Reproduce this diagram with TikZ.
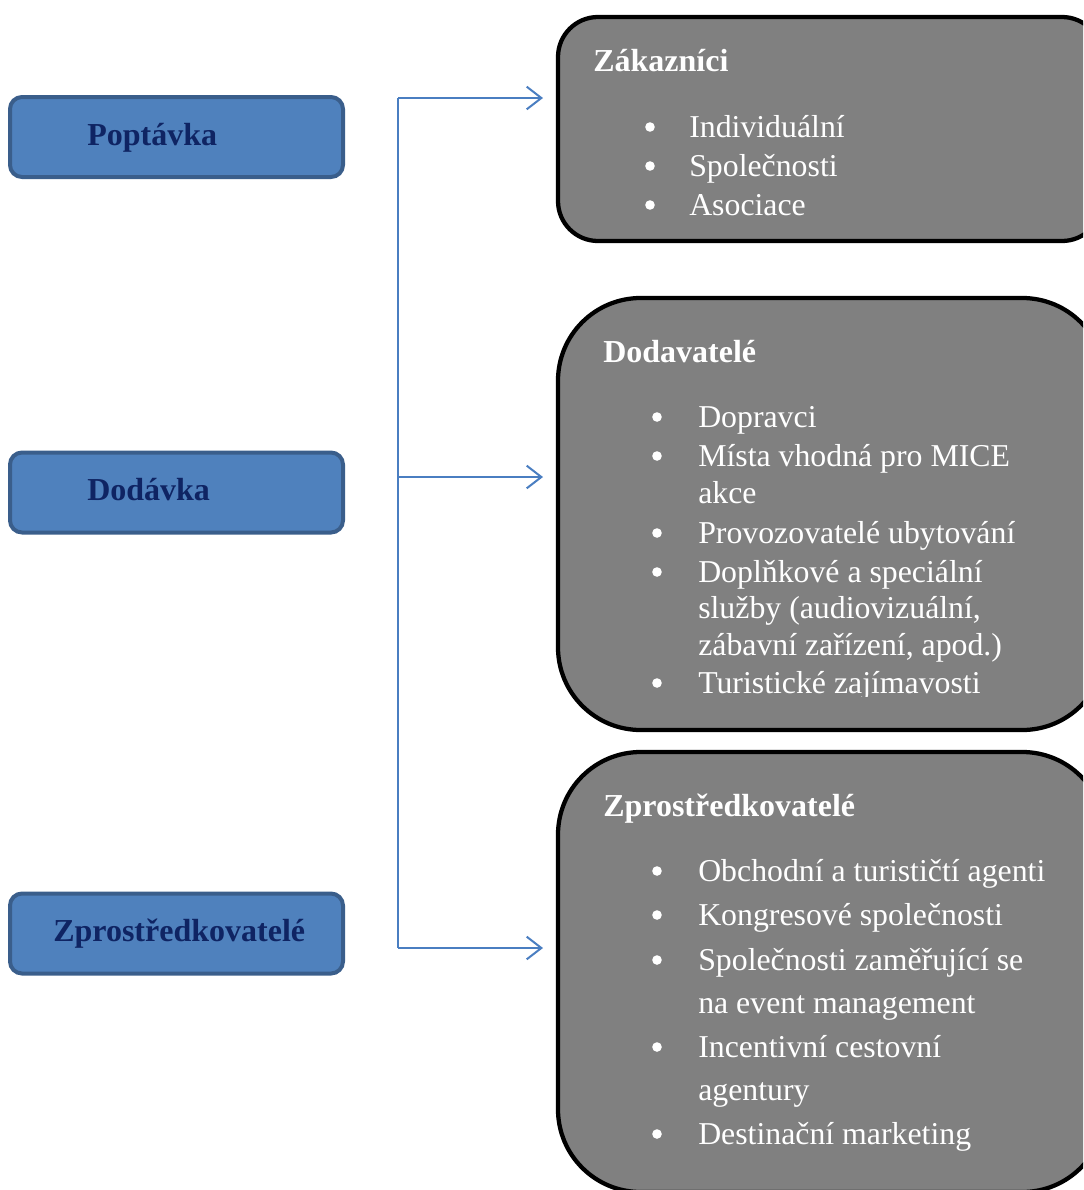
\documentclass[tikz,border=0pt]{standalone}
\usepackage{fontspec}
\setmainfont{Liberation Serif}
\usetikzlibrary{arrows.meta}
\definecolor{leftfill}{RGB}{79,129,189}
\definecolor{leftdraw}{RGB}{58,94,139}
\definecolor{navytext}{RGB}{15,36,99}
\definecolor{boxgray}{RGB}{128,128,128}
\definecolor{connblue}{RGB}{74,126,193}
\begin{document}
\begin{tikzpicture}[x=0.75pt,y=-0.75pt,
  leftbox/.style={draw=leftdraw, fill=leftfill, line width=3pt, rounded corners=9pt,
    minimum width=249.75pt, minimum height=60pt, inner sep=0pt},
  lefttext/.style={anchor=base west, inner sep=0pt, text=navytext,
    font=\fontsize{24}{28}\selectfont\bfseries},
  rightbox/.style={draw=black, fill=boxgray, line width=3.2pt, inner sep=0pt},
  titletext/.style={anchor=base west, inner sep=0pt, text=white,
    font=\fontsize{24}{28}\selectfont\bfseries},
  itemtext/.style={anchor=base west, inner sep=0pt, text=white,
    font=\fontsize{23.85}{28}\selectfont},
  bulletdot/.style={circle, fill=white, inner sep=0pt, minimum size=7.2pt, yshift=7.5pt},
  conn/.style={draw=connblue, line width=1.5pt},
  arr/.style={conn, -{Straight Barb[length=11pt,width=17pt,line width=1.5pt]}}
]
\useasboundingbox (0,0) rectangle (1083,1190);
\clip (0,0) rectangle (1083,1190);

% left boxes
\node[leftbox] (b1) at (176.5,137) {};
\node[leftbox] (b2) at (176.5,492.5) {};
\node[leftbox] (b3) at (176.5,933.5) {};
\node[lefttext] (t1) at (87,145) {Poptávka};
\node[lefttext] (t2) at (87,500) {Dodávka};
\node[lefttext] (t3) at (53,941) {Zprostředkovatelé};

% right boxes
\node[rightbox, rounded corners=30pt, minimum width=408pt, minimum height=168pt] (r1) at (830,129) {};
\node[rightbox, rounded corners=62pt, minimum width=410.25pt, minimum height=324pt] (r2) at (831.5,514) {};
\node[rightbox, rounded corners=62pt, minimum width=410.25pt, minimum height=330pt] (r3) at (831.5,972) {};

% connectors
\coordinate (j1) at (398,98);
\coordinate (j2) at (398,477);
\coordinate (j3) at (398,948);
\coordinate (a1) at (543,98);
\coordinate (a2) at (543,477);
\coordinate (a3) at (543,948);
\draw[conn] (j1) -- (j3);
\draw[arr] (j1) -- (a1);
\draw[arr] (j2) -- (a2);
\draw[arr] (j3) -- (a3);

% box 1 text
\node[titletext] (h1) at (593,71) {Zákazníci};
\node[bulletdot] (p11) at (650,137) {};
\node[itemtext] (i11) at (689,137) {Individuální};
\node[bulletdot] (p12) at (650,176) {};
\node[itemtext] (i12) at (689,176) {Společnosti};
\node[bulletdot] (p13) at (650,215) {};
\node[itemtext] (i13) at (689,215) {Asociace};

% box 2 text
\node[titletext] (h2) at (603,362) {Dodavatelé};
\begin{scope}
\clip (558,298) rectangle (1083,696);
\node[bulletdot] (p21) at (657,427) {};
\node[itemtext] (i21) at (698,427) {Dopravci};
\node[bulletdot] (p22) at (657,466) {};
\node[itemtext] (i22) at (698,466) {Místa vhodná pro MICE};
\node[itemtext] (i22b) at (698,503) {akce};
\node[bulletdot] (p23) at (657,543) {};
\node[itemtext] (i23) at (698,543) {Provozovatelé ubytování};
\node[bulletdot] (p24) at (657,582) {};
\node[itemtext] (i24) at (698,582) {Doplňkové a speciální};
\node[itemtext] (i24b) at (698,618) {služby (audiovizuální,};
\node[itemtext] (i24c) at (698,655) {zábavní zařízení, apod.)};
\node[bulletdot] (p25) at (657,693) {};
\node[itemtext] (i25) at (698,693) {Turistické zajímavosti};
\end{scope}

% box 3 text
\node[titletext] (h3) at (603,816) {Zprostředkovatelé};
\node[bulletdot] (p31) at (657,881) {};
\node[itemtext] (i31) at (698,881) {Obchodní a turističtí agenti};
\node[bulletdot] (p32) at (657,925) {};
\node[itemtext] (i32) at (698,925) {Kongresové společnosti};
\node[bulletdot] (p33) at (657,970) {};
\node[itemtext] (i33) at (698,970) {Společnosti zaměřující se};
\node[itemtext] (i33b) at (698,1013) {na event management};
\node[bulletdot] (p34) at (657,1057) {};
\node[itemtext] (i34) at (698,1057) {Incentivní cestovní};
\node[itemtext] (i34b) at (698,1100) {agentury};
\node[bulletdot] (p35) at (657,1144) {};
\node[itemtext] (i35) at (698,1144) {Destinační marketing};
\end{tikzpicture}
\end{document}
